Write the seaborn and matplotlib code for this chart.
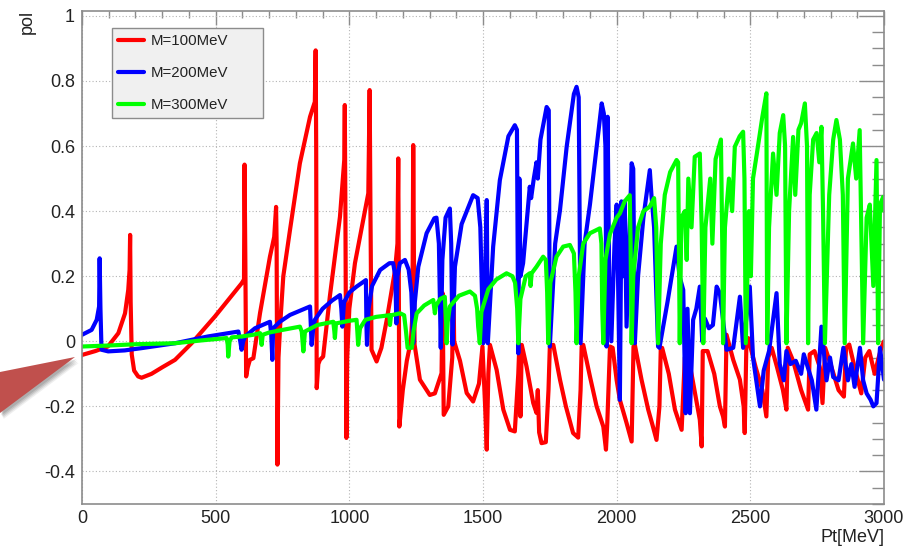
import matplotlib
matplotlib.use("Agg")
import matplotlib.pyplot as plt
import seaborn as sns
import pandas as pd
from matplotlib.patches import Polygon
from matplotlib.ticker import MultipleLocator, FixedLocator, FuncFormatter

# ---- data: (Pt [MeV], polarisation) per mass hypothesis ----
pol_100 = [
    (0, -0.042), (50, -0.03), (97, -0.016), (136, 0.025), (161, 0.086), (173, 0.158),
    (178, 0.22), (180, 0.327), (182, 0.12), (186, -0.04), (195, -0.09), (210, -0.108),
    (223, -0.112), (260, -0.1), (300, -0.08), (348, -0.057), (410, -0.006), (497, 0.076),
    (597, 0.178), (606, 0.19), (608, 0.543), (611, 0.25), (614, -0.108), (620, -0.08),
    (628, -0.057), (641, -0.052), (666, 0.087), (703, 0.26), (719, 0.321), (726, 0.413),
    (728, 0.3), (731, -0.379), (735, -0.05), (742, 0.06), (753, 0.2), (778, 0.342),
    (815, 0.547), (853, 0.69), (871, 0.736), (874, 0.894), (876, 0.6), (878, -0.144),
    (884, -0.07), (890, -0.057), (902, -0.047), (927, 0.137), (965, 0.383), (981, 0.557),
    (983, 0.726), (985, 0.45), (989, -0.297), (992, -0.05), (1000, 0.1), (1021, 0.24),
    (1052, 0.373), (1071, 0.455), (1076, 0.772), (1079, 0.4), (1083, -0.026), (1102, -0.062),
    (1120, -0.02), (1140, 0.066), (1171, 0.219), (1180, 0.3), (1183, 0.562), (1185, 0.2),
    (1187, -0.262), (1200, -0.15), (1215, -0.06), (1230, 0.0), (1236, 0.08), (1239, 0.603),
    (1242, 0.2), (1244, -0.01), (1264, -0.118), (1301, -0.165), (1320, -0.16), (1345, -0.098),
    (1349, 0.148), (1353, -0.226), (1370, -0.2), (1385, -0.05), (1389, 0.209), (1392, 0.0),
    (1414, -0.06), (1439, -0.159), (1463, -0.185), (1485, -0.13), (1498, -0.016), (1508, -0.2),
    (1514, -0.333), (1520, -0.1), (1526, -0.011), (1551, -0.088), (1576, -0.21), (1601, -0.272),
    (1619, -0.277), (1632, -0.1), (1636, -0.011), (1640, -0.231), (1645, -0.011), (1663, -0.078),
    (1688, -0.19), (1700, -0.22), (1705, -0.15), (1710, -0.28), (1719, -0.313), (1735, -0.31),
    (1745, -0.15), (1750, -0.016), (1763, -0.011), (1788, -0.118), (1810, -0.2), (1837, -0.282),
    (1856, -0.296), (1865, -0.15), (1869, -0.016), (1875, -0.011), (1900, -0.108), (1925, -0.2),
    (1950, -0.262), (1960, -0.333), (1965, -0.25), (1975, -0.016), (1985, -0.02), (2000, -0.12),
    (2012, -0.18), (2037, -0.251), (2056, -0.308), (2063, -0.016), (2068, -0.011), (2093, -0.118),
    (2118, -0.21), (2135, -0.26), (2149, -0.303), (2160, -0.2), (2165, -0.02), (2170, -0.02),
    (2195, -0.1), (2218, -0.21), (2243, -0.272), (2255, -0.05), (2262, -0.03), (2280, -0.1),
    (2311, -0.241), (2318, -0.323), (2322, -0.03), (2340, -0.03), (2365, -0.1), (2386, -0.2),
    (2398, -0.231), (2405, -0.262), (2411, 0.02), (2436, -0.057), (2461, -0.118), (2475, -0.2),
    (2479, -0.282), (2485, -0.02), (2492, 0.01), (2520, -0.08), (2545, -0.15), (2560, -0.231),
    (2567, -0.05), (2580, -0.02), (2600, -0.08), (2622, -0.15), (2635, -0.21), (2640, -0.02),
    (2660, -0.06), (2690, -0.15), (2716, -0.21), (2722, -0.04), (2740, -0.03), (2760, -0.08),
    (2770, -0.19), (2780, -0.02), (2800, -0.07), (2830, -0.15), (2850, -0.17), (2858, -0.02),
    (2870, -0.01), (2890, -0.08), (2915, -0.16), (2930, -0.05), (2945, -0.03), (2965, -0.1),
    (2980, -0.05), (2990, -0.02), (3000, 0.0),
]

pol_200 = [
    (0, 0.02), (36, 0.035), (55, 0.066), (64, 0.107), (66, 0.255), (69, 0.1), (73, -0.026),
    (98, -0.031), (160, -0.028), (223, -0.021), (348, -0.006), (472, 0.015), (585, 0.03),
    (592, 0.0), (597, -0.026), (603, 0.0), (610, 0.015), (647, 0.04), (703, 0.06), (708, 0.02),
    (712, -0.057), (715, 0.04), (740, 0.06), (778, 0.081), (853, 0.107), (856, 0.05),
    (859, -0.011), (865, 0.04), (871, 0.066), (900, 0.1), (935, 0.125), (965, 0.142),
    (970, 0.1), (974, 0.045), (980, 0.12), (1000, 0.15), (1027, 0.168), (1062, 0.188),
    (1064, 0.05), (1066, -0.011), (1072, 0.1), (1085, 0.17), (1115, 0.219), (1150, 0.24),
    (1164, 0.24), (1172, 0.2), (1176, 0.055), (1180, 0.2), (1189, 0.24), (1208, 0.25),
    (1222, 0.22), (1232, 0.15), (1239, -0.006), (1245, 0.12), (1258, 0.229), (1289, 0.332),
    (1318, 0.378), (1326, 0.38), (1335, 0.3), (1342, -0.02), (1348, 0.25), (1360, 0.38),
    (1376, 0.408), (1381, 0.3), (1386, -0.01), (1395, 0.229), (1420, 0.36), (1463, 0.449),
    (1480, 0.44), (1490, 0.35), (1498, 0.1), (1501, -0.006), (1508, 0.2), (1514, 0.434),
    (1518, -0.006), (1538, 0.291), (1563, 0.495), (1595, 0.63), (1619, 0.664), (1627, 0.65),
    (1632, -0.037), (1636, 0.5), (1640, 0.2), (1650, 0.24), (1675, 0.475), (1680, 0.44),
    (1690, 0.5), (1700, 0.55), (1705, 0.5), (1715, 0.62), (1738, 0.72), (1746, 0.71),
    (1750, -0.016), (1770, 0.3), (1788, 0.403), (1813, 0.598), (1840, 0.76), (1850, 0.782),
    (1858, 0.75), (1865, -0.006), (1880, 0.3), (1900, 0.42), (1912, 0.505), (1944, 0.731),
    (1952, 0.7), (1958, 0.6), (1962, -0.016), (1966, 0.69), (1972, 0.2), (1980, 0.0),
    (1992, 0.3), (2000, 0.42), (2005, 0.2), (2012, -0.18), (2018, 0.43), (2025, 0.2),
    (2030, 0.43), (2037, 0.045), (2056, 0.547), (2062, 0.53), (2068, -0.006), (2080, 0.2),
    (2100, 0.38), (2124, 0.526), (2130, 0.45), (2140, 0.35), (2150, 0.1), (2155, -0.016),
    (2160, -0.02), (2190, 0.12), (2224, 0.291), (2235, 0.2), (2249, 0.158), (2258, -0.221),
    (2265, 0.1), (2274, -0.221), (2286, 0.066), (2298, 0.1), (2311, 0.168), (2320, 0.0),
    (2330, 0.07), (2345, 0.04), (2360, 0.05), (2374, 0.168), (2386, 0.148), (2411, -0.026),
    (2436, -0.02), (2461, 0.137), (2473, -0.02), (2498, 0.168), (2510, -0.05), (2536, -0.2),
    (2550, -0.09), (2570, -0.03), (2598, 0.148), (2610, -0.07), (2625, -0.12), (2635, -0.03),
    (2650, -0.07), (2670, -0.06), (2690, -0.1), (2700, -0.04), (2715, -0.08), (2730, -0.12),
    (2747, -0.21), (2766, 0.045), (2785, -0.12), (2798, -0.05), (2810, -0.11), (2830, -0.12),
    (2848, -0.02), (2865, -0.12), (2878, -0.07), (2890, -0.14), (2910, -0.02), (2922, -0.12),
    (2935, -0.16), (2950, -0.18), (2960, -0.2), (2972, -0.19), (2985, -0.02), (3000, -0.118),
]

pol_300 = [
    (0, -0.016), (100, -0.013), (200, -0.009), (348, -0.006), (450, 0.003), (541, 0.01),
    (545, -0.01), (547, -0.047), (552, 0.0), (560, 0.012), (600, 0.015), (640, 0.02),
    (666, 0.025), (669, 0.01), (672, -0.011), (676, 0.02), (700, 0.027), (750, 0.035),
    (815, 0.045), (822, 0.03), (828, -0.031), (834, 0.03), (880, 0.05), (940, 0.06),
    (944, 0.03), (946, 0.01), (950, 0.055), (1000, 0.063), (1027, 0.066), (1030, 0.03),
    (1033, -0.011), (1040, 0.04), (1060, 0.066), (1100, 0.075), (1150, 0.08), (1152, 0.05),
    (1156, 0.08), (1190, 0.086), (1205, 0.08), (1212, 0.03), (1218, -0.02), (1234, -0.02),
    (1240, 0.03), (1252, 0.086), (1280, 0.11), (1314, 0.127), (1318, 0.1), (1320, 0.086),
    (1324, 0.11), (1340, 0.13), (1357, 0.137), (1362, 0.06), (1364, -0.006), (1368, 0.06),
    (1376, 0.107), (1410, 0.14), (1451, 0.153), (1470, 0.14), (1478, 0.1), (1482, 0.045),
    (1488, -0.006), (1494, 0.09), (1520, 0.16), (1550, 0.19), (1588, 0.209), (1610, 0.2),
    (1620, 0.18), (1628, 0.1), (1632, -0.006), (1640, 0.13), (1660, 0.2), (1675, 0.209),
    (1678, 0.17), (1682, 0.209), (1700, 0.229), (1725, 0.26), (1735, 0.25), (1740, 0.15),
    (1744, -0.006), (1752, 0.18), (1775, 0.26), (1800, 0.291), (1825, 0.296), (1840, 0.27),
    (1846, 0.15), (1850, -0.006), (1858, 0.2), (1875, 0.3), (1900, 0.332), (1937, 0.347),
    (1943, 0.3), (1946, 0.1), (1950, -0.006), (1958, 0.25), (1975, 0.33), (2000, 0.38),
    (2012, 0.393), (2030, 0.43), (2049, 0.449), (2052, 0.3), (2056, -0.006), (2062, 0.2),
    (2080, 0.35), (2100, 0.4), (2124, 0.414), (2140, 0.44), (2148, 0.35), (2155, -0.006),
    (2165, 0.3), (2180, 0.45), (2200, 0.52), (2224, 0.557), (2230, 0.55), (2236, -0.006),
    (2242, 0.38), (2255, 0.4), (2262, 0.25), (2268, 0.5), (2280, 0.35), (2292, 0.567),
    (2311, 0.577), (2318, 0.35), (2324, -0.006), (2332, 0.35), (2350, 0.5), (2358, 0.3),
    (2370, 0.56), (2390, 0.62), (2395, 0.3), (2398, -0.006), (2405, 0.35), (2420, 0.5),
    (2432, 0.4), (2442, 0.598), (2460, 0.63), (2473, 0.644), (2478, 0.5), (2483, -0.006),
    (2495, 0.4), (2502, 0.2), (2510, 0.5), (2525, 0.58), (2545, 0.69), (2560, 0.762),
    (2563, -0.006), (2570, 0.35), (2585, 0.577), (2598, 0.45), (2610, 0.64), (2623, 0.695),
    (2630, 0.6), (2635, -0.006), (2645, 0.4), (2660, 0.628), (2668, 0.45), (2680, 0.65),
    (2690, 0.67), (2704, 0.731), (2712, 0.6), (2716, -0.006), (2722, 0.45), (2735, 0.62),
    (2748, 0.64), (2758, 0.55), (2766, 0.659), (2772, 0.4), (2779, -0.006), (2795, 0.45),
    (2810, 0.62), (2822, 0.68), (2835, 0.62), (2846, 0.45), (2853, -0.006), (2865, 0.5),
    (2884, 0.608), (2896, 0.5), (2909, 0.649), (2916, 0.3), (2922, -0.006), (2935, 0.38),
    (2947, 0.42), (2960, 0.17), (2972, 0.557), (2978, -0.006), (2985, 0.42), (2997, 0.444),
    (3000, 0.4),
]

series_labels = ["M=100MeV", "M=200MeV", "M=300MeV"]
series_colors = ["#ff0000", "#0000ff", "#00ff00"]
x_ticks = [0, 500, 1000, 1500, 2000, 2500, 3000]
y_ticks = [-0.4, -0.2, 0, 0.2, 0.4, 0.6, 0.8, 1]

# ---- long-form table ----
frames = []
for label, pts in zip(series_labels, [pol_100, pol_200, pol_300]):
    d = pd.DataFrame(pts, columns=["Pt", "pol"])
    d["series"] = label
    frames.append(d)
df = pd.concat(frames, ignore_index=True)

sns.set_theme(style="white")
plt.rcParams["font.family"] = ["Liberation Sans", "DejaVu Sans"]
plt.rcParams["axes.unicode_minus"] = False

W, H = 921, 548
fig = plt.figure(figsize=(W / 100, H / 100), dpi=100)
ax_l, ax_r, ax_t, ax_b = 82, 884, 11, 504
ax_w, ax_h = ax_r - ax_l, ax_b - ax_t
ax = fig.add_axes([ax_l / W, 1 - ax_b / H, ax_w / W, ax_h / H])

sns.lineplot(data=df, x="Pt", y="pol", hue="series", hue_order=series_labels,
             palette=dict(zip(series_labels, series_colors)), sort=False,
             estimator=None, linewidth=3.0, ax=ax, solid_joinstyle="round")

ax.set_xlim(0, 3000)
ax.set_ylim(-0.5, 1.015)
ax.xaxis.set_major_locator(FixedLocator(x_ticks))
ax.xaxis.set_minor_locator(MultipleLocator(100))
ax.yaxis.set_major_locator(FixedLocator(y_ticks))
ax.yaxis.set_minor_locator(MultipleLocator(0.05))
ax.xaxis.set_major_formatter(FuncFormatter(lambda v, p: f"{v:g}"))
ax.yaxis.set_major_formatter(FuncFormatter(lambda v, p: f"{v:g}"))
ax.set_xlabel("")
ax.set_ylabel("")

frame_col = "#8c8c8c"
ax.tick_params(axis="both", which="both", direction="in", top=True, right=True,
               color=frame_col, width=1.0, labelsize=13, labelcolor="#222222")
ax.tick_params(axis="y", which="major", length=18, pad=5)
ax.tick_params(axis="y", which="minor", length=9)
ax.tick_params(axis="x", which="major", length=10, pad=4)
ax.tick_params(axis="x", which="minor", length=5)
for s in ax.spines.values():
    s.set_color(frame_col)
    s.set_linewidth(1.2)

ax.set_axisbelow(True)
ax.grid(True, which="major", linestyle=(0, (1, 2)), color="#b4b4b4", linewidth=0.8)

# legend box: x 112..263, y 28..120 (figure pixels)
handles, labels = ax.get_legend_handles_labels()
lg_x0 = (112 - ax_l) / ax_w
lg_w = (263 - 112) / ax_w
lg_y1 = 1 - (28 - ax_t) / ax_h
lg_h = (120 - 28) / ax_h
leg = ax.legend(handles, labels, loc="upper left", mode="expand",
                bbox_to_anchor=(lg_x0, lg_y1 - lg_h, lg_w, lg_h),
                borderaxespad=0, frameon=True, fancybox=False, framealpha=1,
                facecolor="#f0f0f0", edgecolor="#8c8c8c", fontsize=10.8,
                handlelength=1.75, handletextpad=0.45, labelspacing=1.2,
                borderpad=0.4)
leg.get_frame().set_linewidth(1.0)
for t in leg.get_texts():
    t.set_color("#222222")
for h in leg.get_lines():
    h.set_linewidth(3.0)

fig.text(27 / W, 1 - 22 / H, "pol", rotation=90, ha="center", va="center",
         fontsize=13, color="#222222")
fig.text(ax_r / W, 1 - 537 / H, "Pt[MeV]", ha="right", va="center",
         fontsize=13, color="#222222")


def fig_pts(points, dx=0.0, dy=0.0):
    return [((x + dx) / W, 1 - (y + dy) / H) for x, y in points]


# callout pointer with a soft drop shadow
pointer = [(0, 372), (75, 357), (0, 413)]
for i, a in enumerate([0.10, 0.14, 0.18, 0.22]):
    off = 6 - i * 1.2
    fig.patches.append(Polygon(fig_pts(pointer, off * 0.6, off), closed=True,
                               transform=fig.transFigure, facecolor="#606060",
                               edgecolor="none", alpha=a, zorder=1))
fig.patches.append(Polygon(fig_pts(pointer), closed=True, transform=fig.transFigure,
                           facecolor="#c0504d", edgecolor="none", zorder=2))

fig.savefig("out.png", dpi=100)
